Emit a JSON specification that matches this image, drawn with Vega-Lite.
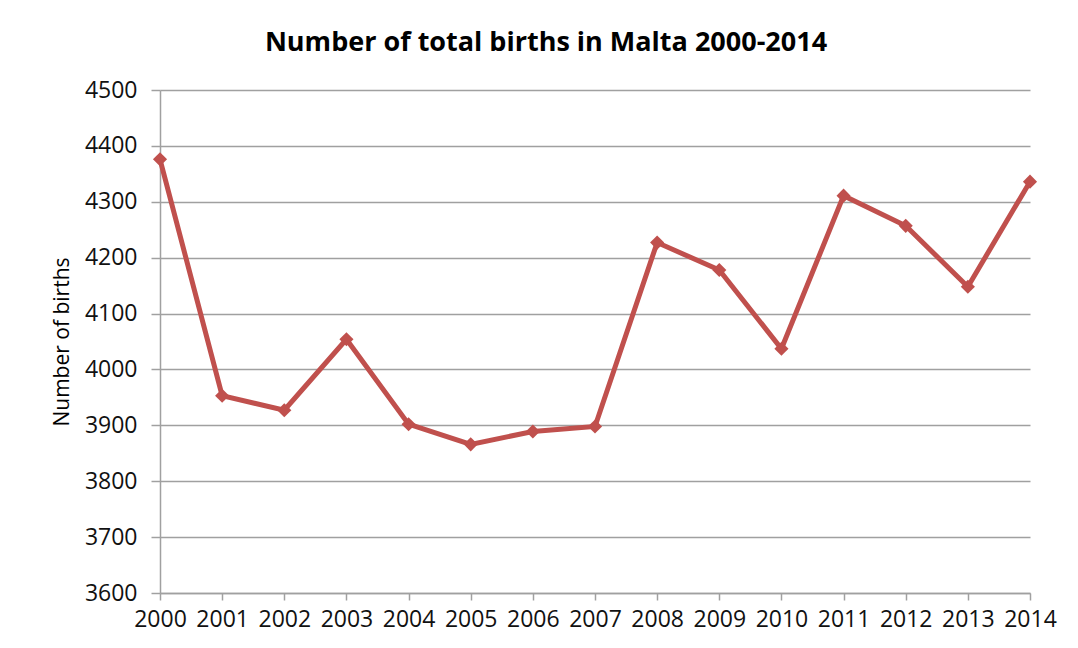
{
  "$schema": "https://vega.github.io/schema/vega-lite/v6.json",
  "autosize": "none",
  "width": 870,
  "height": 503,
  "padding": {"left": 160, "top": 90, "right": 48, "bottom": 55},
  "background": "white",
  "title": {
    "text": "Number of total births in Malta 2000-2014",
    "font": "Open Sans",
    "fontSize": 27,
    "fontWeight": "bold",
    "color": "#000000",
    "anchor": "middle",
    "dx": -49,
    "offset": 22
  },
  "data": {
    "values": [
      {"year": 2000, "births": 4376},
      {"year": 2001, "births": 3953},
      {"year": 2002, "births": 3927},
      {"year": 2003, "births": 4054},
      {"year": 2004, "births": 3902},
      {"year": 2005, "births": 3866},
      {"year": 2006, "births": 3889},
      {"year": 2007, "births": 3898},
      {"year": 2008, "births": 4227},
      {"year": 2009, "births": 4178},
      {"year": 2010, "births": 4037},
      {"year": 2011, "births": 4311},
      {"year": 2012, "births": 4257},
      {"year": 2013, "births": 4148},
      {"year": 2014, "births": 4336}
    ]
  },
  "config": {
    "view": {"stroke": null},
    "axis": {
      "labelFont": "Open Sans",
      "labelFontSize": 23,
      "labelColor": "#111111",
      "titleFont": "Open Sans",
      "titleFontSize": 21,
      "titleFontWeight": "normal",
      "titleColor": "#000000",
      "domainColor": "#a0a0a0",
      "tickColor": "#a0a0a0",
      "gridColor": "#a0a0a0",
      "gridOpacity": 1,
      "domainWidth": 1.5,
      "tickWidth": 1.5,
      "gridWidth": 1.5
    }
  },
  "encoding": {
    "x": {
      "field": "year",
      "type": "quantitative",
      "scale": {"domain": [2000, 2014], "nice": false, "zero": false},
      "axis": {
        "title": null,
        "values": [2000, 2001, 2002, 2003, 2004, 2005, 2006, 2007, 2008, 2009, 2010, 2011, 2012, 2013, 2014],
        "format": "d",
        "grid": false,
        "tickSize": 7,
        "labelPadding": 8,
        "labelFlush": false,
        "labelOverlap": false
      }
    },
    "y": {
      "field": "births",
      "type": "quantitative",
      "scale": {"domain": [3600, 4500], "nice": false, "zero": false},
      "axis": {
        "title": "Number of births",
        "values": [3600, 3700, 3800, 3900, 4000, 4100, 4200, 4300, 4400, 4500],
        "format": "d",
        "grid": true,
        "tickSize": 9,
        "labelPadding": 14,
        "titlePadding": 12,
        "labelFlush": false
      }
    }
  },
  "layer": [
    {
      "mark": {"type": "line", "color": "#C0504D", "strokeWidth": 5}
    },
    {
      "mark": {"type": "point", "shape": "diamond", "filled": true, "color": "#C0504D", "size": 200, "opacity": 1}
    }
  ]
}
